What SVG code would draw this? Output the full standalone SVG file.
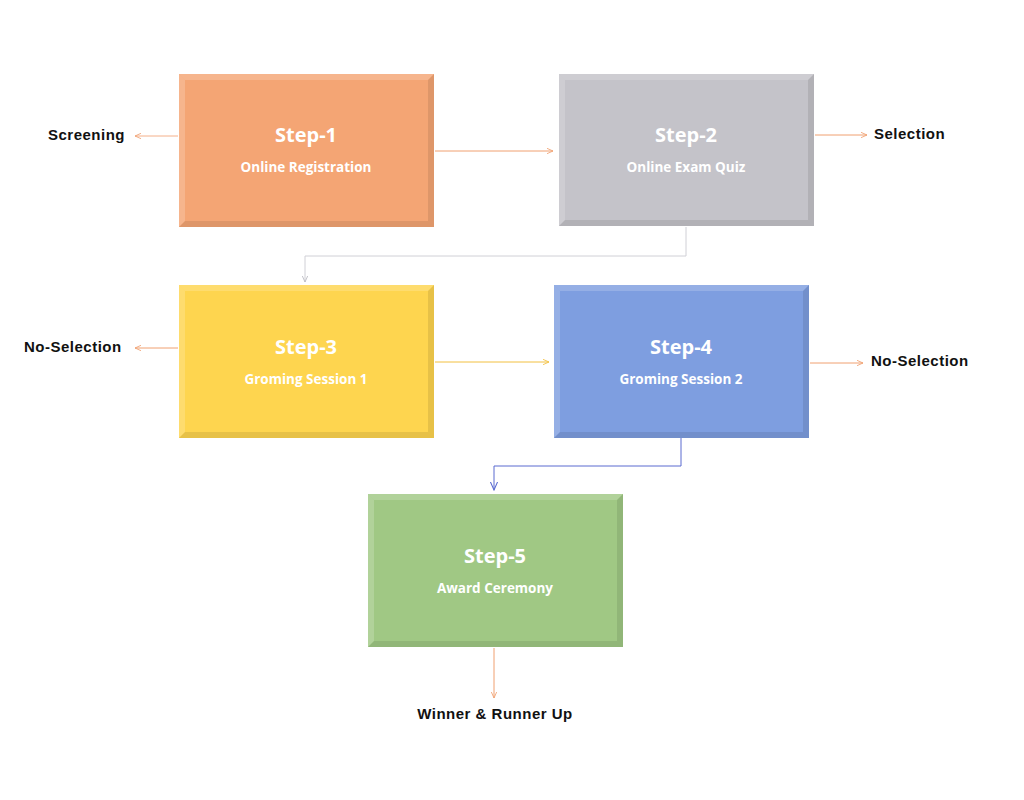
<svg xmlns="http://www.w3.org/2000/svg" width="1024" height="800" viewBox="0 0 1024 800">
<style>
.t1{font-family:"Open Sans","Noto Sans",sans-serif;font-weight:bold;font-size:20px;fill:#fff;text-anchor:middle}
.t2{font-family:"Open Sans","Noto Sans",sans-serif;font-weight:bold;font-size:13.5px;fill:#fff;text-anchor:middle}
.lb{font-family:"Liberation Sans",Arial,sans-serif;font-weight:bold;font-size:15px;fill:#111;letter-spacing:0.5px}
.hl{fill:#fff;opacity:0.18}
.sh{fill:#000;opacity:0.09}
.c{fill:none;stroke-width:1}
</style>
<defs>
<marker id="ao" viewBox="0 0 10 10" refX="9" refY="5" markerWidth="7" markerHeight="7" orient="auto-start-reverse" markerUnits="userSpaceOnUse"><path d="M0,1 L9,5 L0,9" fill="none" stroke="#f0a070" stroke-width="1.2"/></marker>
<marker id="ay" viewBox="0 0 10 10" refX="9" refY="5" markerWidth="7" markerHeight="7" orient="auto-start-reverse" markerUnits="userSpaceOnUse"><path d="M0,1 L9,5 L0,9" fill="none" stroke="#f2c040" stroke-width="1.2"/></marker>
<marker id="ag" viewBox="0 0 10 10" refX="9" refY="5" markerWidth="7" markerHeight="7" orient="auto-start-reverse" markerUnits="userSpaceOnUse"><path d="M0,1 L9,5 L0,9" fill="none" stroke="#b8b8c0" stroke-width="1.2"/></marker>
<marker id="ab" viewBox="0 0 10 10" refX="9" refY="5" markerWidth="9" markerHeight="9" orient="auto-start-reverse" markerUnits="userSpaceOnUse"><path d="M0,1 L9,5 L0,9" fill="none" stroke="#5a6ad0" stroke-width="1.2"/></marker>
</defs>
<rect width="1024" height="800" fill="#fff"/>
<g id="connectors">
<path class="c" d="M178,136 H135" stroke="#f4b08a" marker-end="url(#ao)"/>
<path class="c" d="M435,151 H553" stroke="#f0a070" marker-end="url(#ao)"/>
<path class="c" d="M815,135 H867" stroke="#f0a070" marker-end="url(#ao)"/>
<path class="c" d="M686,227 V256 H305 V282" stroke="#d0d0d6" marker-end="url(#ag)"/>
<path class="c" d="M178,348 H135" stroke="#f0a070" marker-end="url(#ao)"/>
<path class="c" d="M435,362 H549" stroke="#f2c040" marker-end="url(#ay)"/>
<path class="c" d="M810,363 H863" stroke="#f0a070" marker-end="url(#ao)"/>
<path class="c" d="M681,438 V466 H494 V490" stroke="#5a6ad0" marker-end="url(#ab)"/>
<path class="c" d="M494,648 V698" stroke="#f0a070" marker-end="url(#ao)"/>
</g>
<g id="step1">
<rect x="179" y="74" width="255" height="153" fill="#f4a574"/>
<polygon class="hl" points="179,74 434,74 428,80 185,80"/>
<polygon class="hl" points="179,74 185,80 185,221 179,227"/>
<polygon class="sh" points="434,74 434,227 428,221 428,80"/>
<polygon class="sh" points="179,227 434,227 428,221 185,221"/>
<text class="t1" x="306" y="142">Step-1</text>
<text class="t2" x="306" y="172">Online Registration</text>
</g>
<g id="step2">
<rect x="559" y="74" width="255" height="152" fill="#c4c3c9"/>
<polygon class="hl" points="559,74 814,74 808,80 565,80"/>
<polygon class="hl" points="559,74 565,80 565,220 559,226"/>
<polygon class="sh" points="814,74 814,226 808,220 808,80"/>
<polygon class="sh" points="559,226 814,226 808,220 565,220"/>
<text class="t1" x="686" y="142">Step-2</text>
<text class="t2" x="686" y="172">Online Exam Quiz</text>
</g>
<g id="step3">
<rect x="179" y="285" width="255" height="153" fill="#fed54f"/>
<polygon class="hl" points="179,285 434,285 428,291 185,291"/>
<polygon class="hl" points="179,285 185,291 185,432 179,438"/>
<polygon class="sh" points="434,285 434,438 428,432 428,291"/>
<polygon class="sh" points="179,438 434,438 428,432 185,432"/>
<text class="t1" x="306" y="354">Step-3</text>
<text class="t2" x="306" y="384">Groming Session 1</text>
</g>
<g id="step4">
<rect x="554" y="285" width="255" height="153" fill="#7e9ee0"/>
<polygon class="hl" points="554,285 809,285 803,291 560,291"/>
<polygon class="hl" points="554,285 560,291 560,432 554,438"/>
<polygon class="sh" points="809,285 809,438 803,432 803,291"/>
<polygon class="sh" points="554,438 809,438 803,432 560,432"/>
<text class="t1" x="681" y="354">Step-4</text>
<text class="t2" x="681" y="384">Groming Session 2</text>
</g>
<g id="step5">
<rect x="368" y="494" width="255" height="153" fill="#a0c884"/>
<polygon class="hl" points="368,494 623,494 617,500 374,500"/>
<polygon class="hl" points="368,494 374,500 374,641 368,647"/>
<polygon class="sh" points="623,494 623,647 617,641 617,500"/>
<polygon class="sh" points="368,647 623,647 617,641 374,641"/>
<text class="t1" x="495" y="563">Step-5</text>
<text class="t2" x="495" y="593">Award Ceremony</text>
</g>
<g id="labels">
<text class="lb" x="125" y="140" text-anchor="end">Screening</text>
<text class="lb" x="874" y="139">Selection</text>
<text class="lb" x="24" y="352">No-Selection</text>
<text class="lb" x="871" y="366">No-Selection</text>
<text class="lb" x="495" y="719" text-anchor="middle">Winner &amp; Runner Up</text>
</g>
</svg>
